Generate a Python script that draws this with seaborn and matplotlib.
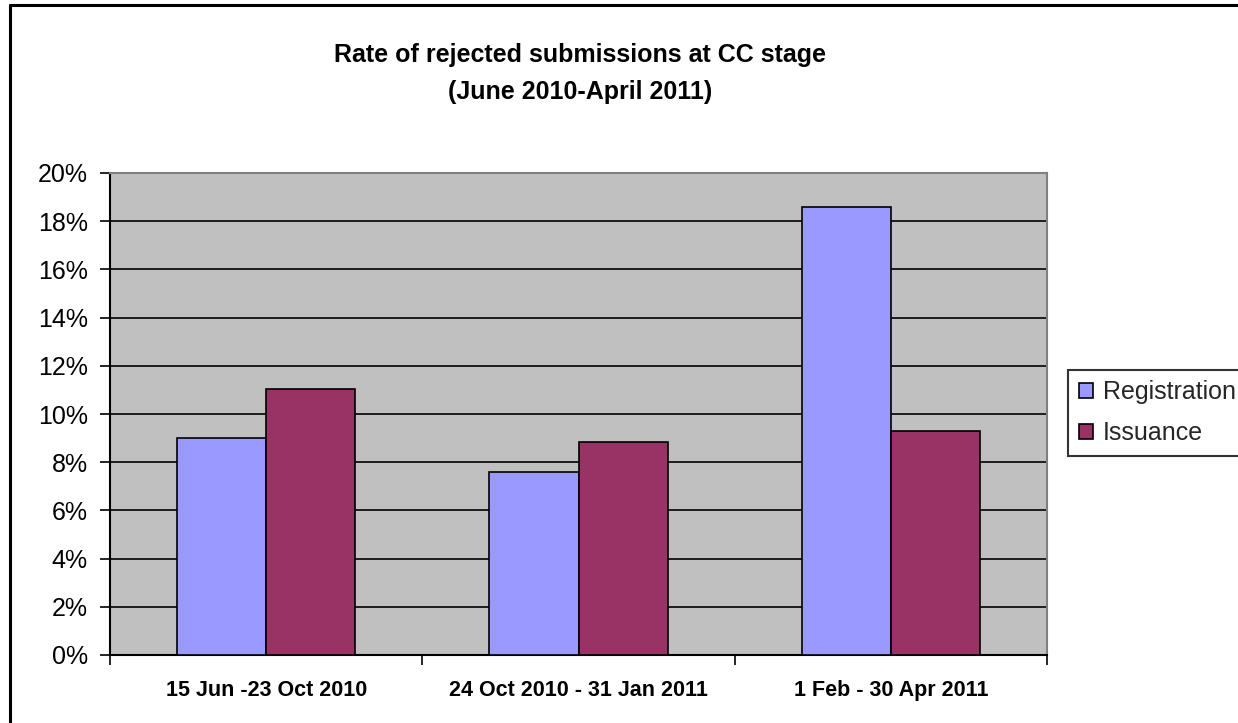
import matplotlib
matplotlib.use("Agg")
import matplotlib.pyplot as plt
import seaborn as sns
import pandas as pd
from matplotlib.ticker import FuncFormatter, MultipleLocator
from matplotlib.lines import Line2D

categories = ["15 Jun -23 Oct 2010", "24 Oct 2010 - 31 Jan 2011", "1 Feb - 30 Apr 2011"]
registration = [9.0, 7.6, 18.6]
issuance = [11.05, 8.85, 9.3]
series = ["Registration", "Issuance"]
colors = ["#9999FF", "#993366"]

df = pd.DataFrame({
    "period": categories * 2,
    "series": [series[0]] * 3 + [series[1]] * 3,
    "value": registration + issuance,
})

sns.set_theme(style="white")
plt.rcParams["font.family"] = ["Liberation Sans", "DejaVu Sans"]

fig = plt.figure(figsize=(12.38, 7.23), dpi=100)
W, H = 1238, 723
ax = fig.add_axes([110 / W, 1 - 655 / H, (1047 - 110) / W, (655 - 173) / H])
ax.set_facecolor("#C0C0C0")

sns.barplot(data=df, x="period", y="value", hue="series", palette=colors,
            order=categories, hue_order=series, width=0.57, ax=ax,
            edgecolor="black", linewidth=1.2, saturation=1, legend=True, zorder=3)

ax.set_ylim(0, 20)
ax.set_xlim(-0.5, 2.5)
ax.yaxis.set_major_locator(MultipleLocator(2))
ax.yaxis.set_major_formatter(FuncFormatter(lambda v, p: f"{v:.0f}%"))
ax.grid(axis="y", color="black", linewidth=1.2, zorder=1)
ax.set_axisbelow(True)
ax.set_xlabel("")
ax.set_ylabel("")

for s in ["top", "right"]:
    ax.spines[s].set_color("#808080")
    ax.spines[s].set_linewidth(1.5)
for s in ["left", "bottom"]:
    ax.spines[s].set_color("black")
    ax.spines[s].set_linewidth(1.5)

ax.tick_params(axis="y", which="major", direction="out", length=7, width=1.2,
               color="black", labelsize=18, pad=9, left=True, labelcolor="black")
ax.set_xticks([0, 1, 2])
ax.set_xticklabels(categories, fontsize=15.5, fontweight="bold", color="black")
ax.tick_params(axis="x", which="major", length=0, pad=18)
ax.set_xticks([-0.5, 0.5, 1.5, 2.5], minor=True)
ax.tick_params(axis="x", which="minor", direction="out", length=7, width=1.2,
               color="black", bottom=True)

leg = ax.legend(loc="upper left", bbox_to_anchor=(1068 / W, 1 - 370 / H),
                bbox_transform=fig.transFigure, frameon=True, fontsize=18,
                handlelength=0.58, handleheight=0.58, handletextpad=0.4,
                borderpad=0.42, labelspacing=0.68, borderaxespad=0,
                fancybox=False)
leg.get_frame().set_edgecolor("black")
leg.get_frame().set_linewidth(1.5)
for h in leg.legend_handles:
    h.set_edgecolor("black")
    h.set_linewidth(1.2)

fig.text(580 / W, 1 - 55 / H, "Rate of rejected submissions at CC stage",
         ha="center", va="center", fontsize=18, fontweight="bold", color="black")
fig.text(580 / W, 1 - 92 / H, "(June 2010-April 2011)",
         ha="center", va="center", fontsize=18, fontweight="bold", color="black")

# outer chart border (top and left visible)
fig.add_artist(Line2D([10 / W, 10 / W], [0, 1 - 5 / H], transform=fig.transFigure,
                      color="black", linewidth=2.2))
fig.add_artist(Line2D([10 / W, 1], [1 - 5 / H, 1 - 5 / H], transform=fig.transFigure,
                      color="black", linewidth=2.2))

fig.savefig("out.png", dpi=100)
